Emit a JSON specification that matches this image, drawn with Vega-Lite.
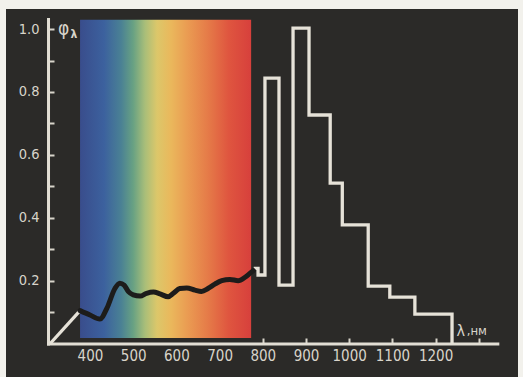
{
  "$schema": "https://vega.github.io/schema/vega-lite/v6.json",
  "width": 512,
  "height": 368,
  "autosize": {"type": "none"},
  "padding": {"left": 6, "top": 9, "right": 5, "bottom": 0},
  "background": "#f2f1ec",
  "view": {"fill": "#2b2a28", "stroke": null},
  "config": {"font": "Liberation Sans Narrow, DejaVu Sans Condensed, sans-serif"},
  "datasets": {
    "band": [{"nm": 377, "nm2": 773, "v": 0.019, "v2": 1.029}],
    "curve": [
      {"nm": 377, "v": 0.106}, {"nm": 400, "v": 0.092}, {"nm": 423, "v": 0.079}, {"nm": 439, "v": 0.113},
      {"nm": 458, "v": 0.177}, {"nm": 469, "v": 0.193}, {"nm": 479, "v": 0.187}, {"nm": 489, "v": 0.166},
      {"nm": 500, "v": 0.156}, {"nm": 516, "v": 0.152}, {"nm": 531, "v": 0.161}, {"nm": 547, "v": 0.165},
      {"nm": 562, "v": 0.159}, {"nm": 581, "v": 0.150}, {"nm": 593, "v": 0.161}, {"nm": 608, "v": 0.176},
      {"nm": 624, "v": 0.178}, {"nm": 643, "v": 0.171}, {"nm": 658, "v": 0.167}, {"nm": 674, "v": 0.177},
      {"nm": 689, "v": 0.190}, {"nm": 705, "v": 0.201}, {"nm": 724, "v": 0.205}, {"nm": 743, "v": 0.201},
      {"nm": 759, "v": 0.212}, {"nm": 770, "v": 0.224}, {"nm": 778, "v": 0.233}
    ],
    "lines": [
      {"s": "diag", "i": 0, "nm": 307, "v": 0.0},
      {"s": "diag", "i": 1, "nm": 376, "v": 0.104},
      {"s": "hist", "i": 0, "nm": 779, "v": 0.24},
      {"s": "hist", "i": 1, "nm": 789, "v": 0.24},
      {"s": "hist", "i": 2, "nm": 789, "v": 0.219},
      {"s": "hist", "i": 3, "nm": 805, "v": 0.219},
      {"s": "hist", "i": 4, "nm": 805, "v": 0.844},
      {"s": "hist", "i": 5, "nm": 837.5, "v": 0.844},
      {"s": "hist", "i": 6, "nm": 837.5, "v": 0.187},
      {"s": "hist", "i": 7, "nm": 870, "v": 0.187},
      {"s": "hist", "i": 8, "nm": 870, "v": 1.003},
      {"s": "hist", "i": 9, "nm": 907, "v": 1.003},
      {"s": "hist", "i": 10, "nm": 907, "v": 0.727},
      {"s": "hist", "i": 11, "nm": 956, "v": 0.727},
      {"s": "hist", "i": 12, "nm": 956, "v": 0.511},
      {"s": "hist", "i": 13, "nm": 984, "v": 0.511},
      {"s": "hist", "i": 14, "nm": 984, "v": 0.378},
      {"s": "hist", "i": 15, "nm": 1044, "v": 0.378},
      {"s": "hist", "i": 16, "nm": 1044, "v": 0.184},
      {"s": "hist", "i": 17, "nm": 1094, "v": 0.184},
      {"s": "hist", "i": 18, "nm": 1094, "v": 0.149},
      {"s": "hist", "i": 19, "nm": 1152, "v": 0.149},
      {"s": "hist", "i": 20, "nm": 1152, "v": 0.095},
      {"s": "hist", "i": 21, "nm": 1238, "v": 0.095},
      {"s": "hist", "i": 22, "nm": 1238, "v": 0.0}
    ],
    "one": [{}]
  },
  "layer": [
    {
      "data": {"name": "band"},
      "mark": {
        "type": "rect",
        "fill": {
          "gradient": "linear",
          "x1": 0, "y1": 0, "x2": 1, "y2": 0,
          "stops": [
            {"offset": 0, "color": "#394d8c"},
            {"offset": 0.14, "color": "#3c619e"},
            {"offset": 0.24, "color": "#4a8194"},
            {"offset": 0.31, "color": "#68a183"},
            {"offset": 0.38, "color": "#a9be79"},
            {"offset": 0.45, "color": "#dcc76a"},
            {"offset": 0.53, "color": "#eab85c"},
            {"offset": 0.63, "color": "#ea9b52"},
            {"offset": 0.75, "color": "#e57a48"},
            {"offset": 0.87, "color": "#df553f"},
            {"offset": 1, "color": "#d7403c"}
          ]
        }
      },
      "encoding": {
        "x": {
          "field": "nm", "type": "quantitative",
          "scale": {"domain": [205.6, 1390.7], "nice": false, "zero": false},
          "axis": {
            "title": null, "offset": -33, "domain": false, "grid": false,
            "values": [400, 500, 600, 700, 800, 900, 1000, 1100, 1200, 1300],
            "labelExpr": "datum.value > 1250 ? '' : datum.label",
            "format": "d",
            "tickSize": -6, "tickWidth": 2,
            "tickColor": {"condition": {"test": "datum.value >= 800", "value": "#d8d4ca"}, "value": "rgba(0,0,0,0)"},
            "labelColor": "#d8d4ca", "labelFontSize": 15, "labelPadding": 10,
            "labelFont": "Liberation Sans Narrow, DejaVu Sans Condensed, sans-serif"
          }
        },
        "x2": {"field": "nm2"},
        "y": {
          "field": "v", "type": "quantitative",
          "scale": {"domain": [-0.1048, 1.0635], "nice": false, "zero": false},
          "axis": {
            "title": null, "offset": -42, "domain": false, "grid": false,
            "values": [0.1, 0.2, 0.3, 0.4, 0.5, 0.6, 0.7, 0.8, 0.9, 1.0],
            "labelExpr": "round(datum.value * 10) % 2 == 0 ? format(datum.value, '.1f') : ''",
            "tickSize": -6, "tickWidth": 2, "tickColor": "#d8d4ca",
            "labelColor": "#d8d4ca", "labelFontSize": 14.5, "labelPadding": 15,
            "labelFont": "Liberation Sans Narrow, DejaVu Sans Condensed, sans-serif"
          }
        },
        "y2": {"field": "v2"}
      }
    },
    {
      "data": {"name": "one"},
      "mark": {"type": "rule", "color": "#e2ded4", "strokeWidth": 3, "strokeCap": "square"},
      "encoding": {
        "x": {"datum": 304, "type": "quantitative"},
        "y": {"datum": 0, "type": "quantitative"},
        "y2": {"datum": 1.03}
      }
    },
    {
      "data": {"name": "one"},
      "mark": {"type": "rule", "color": "#e2ded4", "strokeWidth": 3, "strokeCap": "square"},
      "encoding": {
        "y": {"datum": 0, "type": "quantitative"},
        "x": {"datum": 304, "type": "quantitative"},
        "x2": {"datum": 1344}
      }
    },
    {
      "data": {"name": "lines"},
      "mark": {"type": "line", "color": "#e6e2d8", "strokeWidth": 3.3, "strokeJoin": "miter", "strokeCap": "butt"},
      "encoding": {
        "x": {"field": "nm", "type": "quantitative"},
        "y": {"field": "v", "type": "quantitative"},
        "detail": {"field": "s"},
        "order": {"field": "i", "type": "quantitative"}
      }
    },
    {
      "data": {"name": "curve"},
      "mark": {"type": "line", "color": "#1d1c1b", "strokeWidth": 5, "interpolate": "monotone", "strokeCap": "round"},
      "encoding": {
        "x": {"field": "nm", "type": "quantitative"},
        "y": {"field": "v", "type": "quantitative"}
      }
    },
    {
      "data": {"name": "one"},
      "mark": {"type": "text", "text": "φ", "fontSize": 19, "color": "#d8d4ca", "align": "center", "baseline": "middle"},
      "encoding": {
        "x": {"datum": 339, "type": "quantitative"},
        "y": {"datum": 1.0, "type": "quantitative"}
      }
    },
    {
      "data": {"name": "one"},
      "mark": {"type": "text", "text": "λ", "fontSize": 12, "fontWeight": "bold", "color": "#d8d4ca", "align": "center", "baseline": "middle"},
      "encoding": {
        "x": {"datum": 363, "type": "quantitative"},
        "y": {"datum": 0.985, "type": "quantitative"}
      }
    },
    {
      "data": {"name": "one"},
      "mark": {"type": "text", "text": "λ", "fontSize": 16, "color": "#d8d4ca", "align": "center", "baseline": "alphabetic"},
      "encoding": {
        "x": {"datum": 1258, "type": "quantitative"},
        "y": {"datum": 0.026, "type": "quantitative"}
      }
    },
    {
      "data": {"name": "one"},
      "mark": {"type": "text", "text": ",нм", "fontSize": 13, "color": "#d8d4ca", "align": "left", "baseline": "alphabetic"},
      "encoding": {
        "x": {"datum": 1272, "type": "quantitative"},
        "y": {"datum": 0.028, "type": "quantitative"}
      }
    }
  ]
}
